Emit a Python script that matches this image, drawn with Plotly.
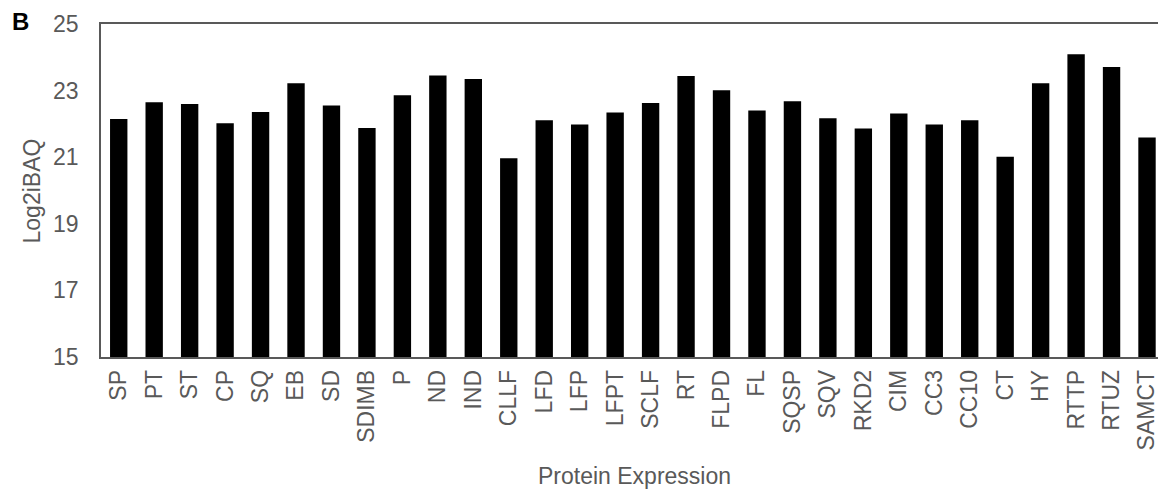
import plotly.graph_objects as go

categories = ["SP", "PT", "ST", "CP", "SQ", "EB", "SD", "SDIMB", "P", "ND",
              "IND", "CLLF", "LFD", "LFP", "LFPT", "SCLF", "RT", "FLPD", "FL", "SQSP",
              "SQV", "RKD2", "CIM", "CC3", "CC10", "CT", "HY", "RTTP", "RTUZ", "SAMCT"]
values = [22.15, 22.65, 22.60, 22.02, 22.36, 23.22, 22.55, 21.88, 22.86, 23.45,
          23.35, 20.97, 22.11, 21.98, 22.34, 22.63, 23.44, 23.01, 22.40, 22.68,
          22.17, 21.86, 22.31, 21.98, 22.11, 21.01, 23.22, 24.09, 23.71, 21.59]
y_ticks = [15, 17, 19, 21, 23, 25]
y_base = 15

font_family = "Liberation Sans, Arial, sans-serif"
grey = "#595959"
fs = 23

fig = go.Figure(go.Bar(
    x=categories, y=[v - y_base for v in values], base=y_base,
    marker=dict(color="black", line=dict(width=0)), width=0.49,
))

fig.update_layout(
    width=1158, height=491, autosize=False,
    margin=dict(l=101, r=0, t=24, b=134, autoexpand=False),
    plot_bgcolor="white", paper_bgcolor="white",
    showlegend=False,
    font=dict(family=font_family, color=grey, size=fs),
    xaxis=dict(
        type="category", range=[-0.5, 29.31],
        showline=True, linecolor=grey, linewidth=1.5, mirror=True,
        ticks="", tickangle=-90, tickfont=dict(size=fs, color=grey, family=font_family),
        ticklabelstandoff=2, showgrid=False, automargin=False,
    ),
    yaxis=dict(
        range=[15, 25], tickvals=y_ticks, showline=True, linecolor=grey, linewidth=1.5,
        ticks="", showgrid=False, zeroline=False, automargin=False,
        tickfont=dict(size=fs, color=grey, family=font_family), ticklabelstandoff=16,
    ),
    annotations=[
        dict(text="Protein Expression", xref="paper", yref="paper", x=0.505, y=-0.357,
             xanchor="center", yanchor="middle", showarrow=False,
             font=dict(size=fs, color=grey, family=font_family)),
        dict(text="Log2iBAQ", xref="paper", yref="paper", x=-0.0653, y=0.5,
             xanchor="center", yanchor="middle", textangle=-90, showarrow=False,
             font=dict(size=fs, color=grey, family=font_family)),
        dict(text="<b>B</b>", xref="paper", yref="paper", x=-0.0766, y=1.0075,
             xanchor="center", yanchor="middle", showarrow=False,
             font=dict(size=24, color="black", family=font_family)),
    ],
)

fig.write_html("out.html", config={"displayModeBar": False},
               post_script="document.body.style.margin='0';document.body.style.overflow='hidden';")
